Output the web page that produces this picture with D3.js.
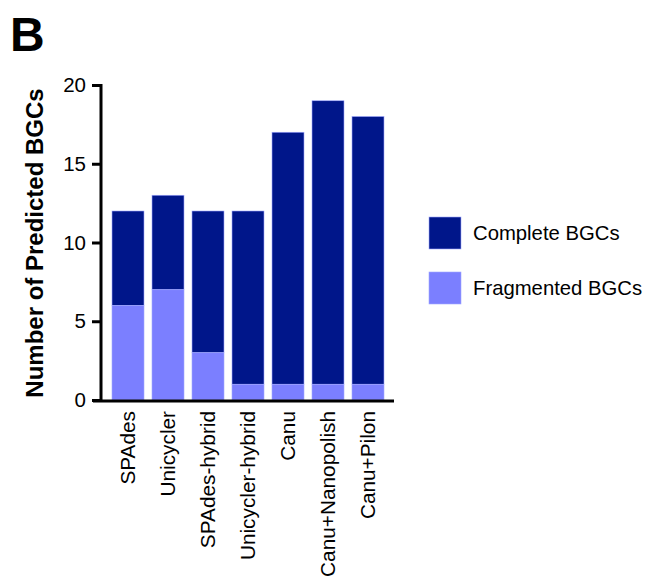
<!DOCTYPE html>
<html>
<head>
<meta charset="utf-8">
<script src="https://cdn.jsdelivr.net/npm/d3@7"></script>
<style>
  body { margin: 0; background: #fff; }
  text { font-family: "Liberation Sans", Arial, sans-serif; }
</style>
</head>
<body>
<div id="chart"></div>
<script>
// data
var assemblers = ['SPAdes', 'Unicycler', 'SPAdes-hybrid', 'Unicycler-hybrid', 'Canu', 'Canu+Nanopolish', 'Canu+Pilon'];
var fragmented = [6, 7, 3, 1, 1, 1, 1];
var complete = [6, 6, 9, 11, 16, 18, 17];
var yTicks = [0, 5, 10, 15, 20];
var seriesNames = ['Complete BGCs', 'Fragmented BGCs'];
var colors = ['#00168a', '#7b7fff'];

var dim = { width: 650, height: 582 };
var svg = d3.select('#chart').append('svg')
    .attr('width', dim.width)
    .attr('height', dim.height);

var yScale = d3.scaleLinear()
    .domain([0, 20])
    .range([400, 85]);

var xScale = d3.scaleBand()
    .domain(assemblers)
    .range([108, 388])
    .paddingInner(0.2)
    .paddingOuter(0.1);

// stacked bars: fragmented at bottom, complete on top
var rows = assemblers.map(function(a, i) {
    return { name: a, frag: fragmented[i], comp: complete[i] };
});
var stack = d3.stack().keys(['comp', 'frag'])
    .order(d3.stackOrderReverse);
var layers = stack(rows);

svg.append('g').selectAll('g')
    .data(layers)
    .join('g')
    .attr('fill', function(d, i) { return colors[i]; })
    .selectAll('rect')
    .data(function(d) { return d; })
    .join('rect')
    .attr('x', function(d) { return xScale(d.data.name); })
    .attr('width', xScale.bandwidth())
    .attr('y', function(d) { return yScale(d[1]); })
    .attr('height', function(d) { return yScale(d[0]) - yScale(d[1]); })
    .attr('stroke', '#a0a8ff')
    .attr('stroke-width', 0.6);

// y axis
var yAxis = svg.append('g')
    .attr('transform', 'translate(101,0)')
    .call(d3.axisLeft(yScale).tickValues(yTicks).tickSize(9).tickSizeOuter(0));
yAxis.select('.domain').attr('stroke', '#000').attr('stroke-width', 3)
    .attr('d', 'M0,' + (yScale(20) - 1) + 'V' + (yScale(0) + 1));
yAxis.selectAll('.tick line').attr('stroke', '#000').attr('stroke-width', 3);
yAxis.selectAll('.tick text')
    .attr('x', -15)
    .style('font-size', '20.5px')
    .style('font-family', '"Liberation Sans", Arial, sans-serif')
    .attr('fill', '#000');

// x axis line
svg.append('line')
    .attr('x1', 93).attr('x2', 394)
    .attr('y1', yScale(0) + 1).attr('y2', yScale(0) + 1)
    .attr('stroke', '#000').attr('stroke-width', 3);

// x labels, rotated
svg.append('g').selectAll('text')
    .data(assemblers)
    .join('text')
    .attr('transform', function(d) {
        return 'translate(' + (xScale(d) + xScale.bandwidth() / 2 + 7) + ',411) rotate(-90)';
    })
    .attr('text-anchor', 'end')
    .style('font-size', '20.8px')
    .text(function(d) { return d; });

// y title
svg.append('text')
    .attr('transform', 'translate(43,' + 243 + ') rotate(-90)')
    .attr('text-anchor', 'middle')
    .style('font-size', '24px')
    .style('font-weight', 'bold')
    .text('Number of Predicted BGCs');

// panel letter
svg.append('text')
    .attr('x', 10).attr('y', 51)
    .style('font-size', '48px')
    .style('font-weight', 'bold')
    .text('B');

// legend
var legend = svg.append('g').selectAll('g')
    .data(seriesNames)
    .join('g')
    .attr('transform', function(d, i) { return 'translate(429,' + (217 + i * 55) + ')'; });
legend.append('rect')
    .attr('width', 32).attr('height', 32)
    .attr('fill', function(d, i) { return colors[i]; })
    .attr('stroke', '#a0a8ff').attr('stroke-width', 0.6);
legend.append('text')
    .attr('x', 44).attr('y', 23)
    .style('font-size', '20.3px')
    .text(function(d) { return d; });
</script>
</body>
</html>
